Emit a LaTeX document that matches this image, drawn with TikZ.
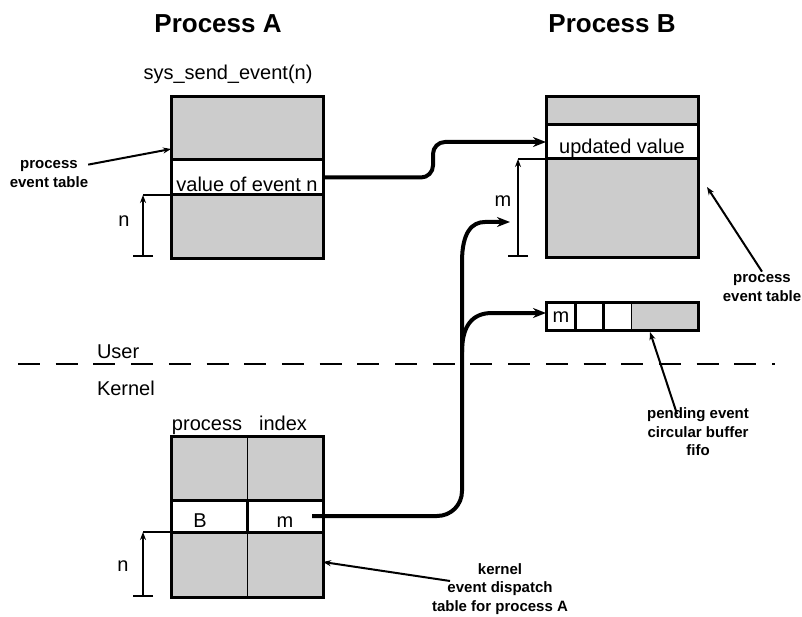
\documentclass[tikz,border=0pt]{standalone}
\usepackage{fontspec}
\setmainfont{Liberation Sans}
\usetikzlibrary{arrows.meta}
\definecolor{cellgray}{RGB}{204,204,204}
\tikzset{
  every node/.style={inner sep=0pt, outer sep=0pt},
  midtext/.style={font=\fontsize{20}{22}\selectfont},
  smalltext/.style={font=\bfseries\fontsize{15}{18.5}\selectfont, align=center},
  titletext/.style={font=\bfseries\fontsize{26}{30}\selectfont},
  tablebox/.style={draw, line width=3pt, fill=cellgray, anchor=north west, minimum width=152pt},
  rowbox/.style={draw, line width=3pt, fill=white, anchor=north west},
  whitecell/.style={fill=white, anchor=north west, minimum height=28pt},
  conn/.style={line width=4pt, -{Stealth[length=13pt,width=10pt]}},
  dimline/.style={line width=2pt},
  dimarrow/.style={line width=2pt, {Bar[width=20pt]}-{Stealth[length=8pt,width=6pt]}},
  lblarrow/.style={line width=2pt, -{Stealth[length=8pt,width=6pt]}},
}
\begin{document}
\begin{tikzpicture}[x=1pt,y=-1pt]
\useasboundingbox[fill=white] (0,0) rectangle (802,617);

% titles
\node[titletext, anchor=base] (titleA) at (218,33) {Process A};
\node[titletext, anchor=base] (titleB) at (612,33) {Process B};
\node[midtext, anchor=base] (call) at (228,80) {sys\_send\_event(n)};

% process A event table
\node[tablebox, minimum height=162pt] (tabA) at (171,97) {};
\node[rowbox, minimum width=152pt, minimum height=35pt] (rowA) at (171,160) {};
\node[midtext, anchor=base] (txtA) at (247,192) {value of event n};

\node[smalltext] (lblA) at (49,174) {process\\event table};
\draw[lblarrow] ([yshift=-4pt]lblA.north east) -- ([yshift=-52pt]tabA.north west);

\coordinate (nAbase) at (143,257);
\draw[dimarrow] (nAbase) -- (nAbase |- rowA.south);
\draw[dimline] (nAbase |- rowA.south) -- (rowA.south west);
\node[midtext, anchor=base] (nA) at (124,227) {n};

% process B event table
\node[tablebox, minimum height=161pt] (tabB) at (546,97) {};
\node[rowbox, minimum width=152pt, minimum height=34pt] (rowB) at (546,125) {};
\node[midtext, anchor=base] (txtB) at (622,154) {updated value};

\coordinate (mBbase) at (518,257);
\draw[dimarrow] (mBbase) -- (mBbase |- rowB.south);
\draw[dimline] (mBbase |- rowB.south) -- (rowB.south west);
\node[midtext, anchor=base] (mB) at (503,207) {m};

\node[smalltext] (lblB) at (762,288) {process\\event table};
\draw[lblarrow] ([yshift=3pt]lblB.north) -- ([shift={(9pt,-9.5pt)}]tabB.east);

% pending event buffer
\node[tablebox, minimum height=28pt, draw=none] (buf) at (546,302) {};
\node[whitecell, minimum width=29pt] (c1) at (546,302) {};
\node[whitecell, minimum width=28pt] (c2) at (575,302) {};
\node[whitecell, minimum width=28pt] (c3) at (603,302) {};
\node[midtext, anchor=base] (mC) at (561,322) {m};
\draw[line width=3pt] (c1.north east) -- (c1.south east);
\draw[line width=3pt] (c2.north east) -- (c2.south east);
\draw[line width=1pt] (c3.north east) -- (c3.south east);
\draw[line width=3pt] (buf.north west) rectangle (buf.south east);

\node[smalltext] (lblP) at (698,432) {pending event\\circular buffer\\fifo};
\draw[lblarrow] ([shift={(-21pt,-6pt)}]lblP.north) -- ([xshift=28pt,yshift=-2pt]buf.south);

% user / kernel boundary
\coordinate (dL) at (18,364);
\coordinate (dR) at (775,364);
\draw[line width=2.5pt, dash pattern=on 22pt off 15.7pt] (dL) -- (dR);
\node[midtext, anchor=base west] (user) at (97,358) {User};
\node[midtext, anchor=base west] (kernel) at (97,395) {Kernel};

% kernel dispatch table
\node[tablebox, minimum height=161pt] (tabK) at (171,436) {};
\draw[line width=1pt] (tabK.north) -- (tabK.south);
\node[rowbox, minimum width=76pt, minimum height=32pt] (kB) at (171,500) {};
\node[rowbox, minimum width=76pt, minimum height=32pt] (km) at (247,500) {};
\node[midtext, anchor=base] (txtKB) at (200,527) {B};
\node[midtext, anchor=base] (txtKm) at (285,527) {m};
\node[midtext, anchor=base] (hProc) at (207,430) {process};
\node[midtext, anchor=base] (hIdx) at (283,430) {index};

\coordinate (nKbase) at (143,597);
\draw[dimarrow] (nKbase) -- (nKbase |- km.south);
\draw[dimline] (nKbase |- kB.south) -- (kB.south west);
\node[midtext, anchor=base] (nK) at (123,571) {n};

\node[smalltext] (lblK) at (500,589) {kernel\\event dispatch\\table for process A};
\draw[lblarrow] ([shift={(18pt,8pt)}]lblK.west) -- ([yshift=-45.5pt]tabK.east);

% event delivery connectors
\draw[conn, rounded corners=12pt] (rowA.east) -- (433,177.5) -- (433,142) -- (rowB.west);

\coordinate (kstart) at ([xshift=-11pt]km.east);
\coordinate (mtip) at (510,222);
\coordinate (split) at (462,352);
\draw[conn] (kstart) -- (437,516) .. controls (451,516) and (462,505) .. (462,491)
  -- (462,262) .. controls (462,232) and (472,222) .. (485,222) -- (mtip);
\draw[conn] (split) .. controls (462,326) and (472,313) .. (492,313) -- ([yshift=3pt]buf.west);
\end{tikzpicture}
\end{document}
